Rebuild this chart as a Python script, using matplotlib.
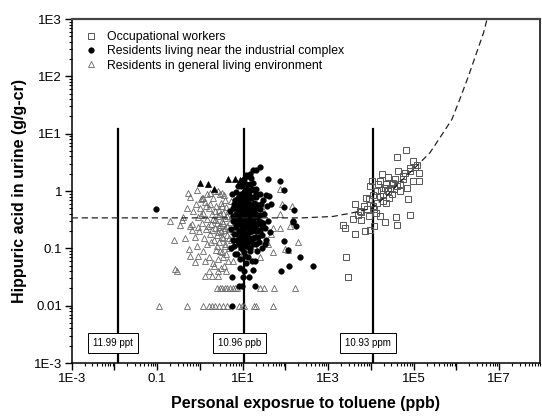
import numpy as np
import matplotlib
matplotlib.use("Agg")
import matplotlib.pyplot as plt
from matplotlib.ticker import LogLocator, NullFormatter

plt.rcParams['font.family'] = ['DejaVu Sans Condensed', 'Liberation Sans Narrow', 'Liberation Sans']
plt.rcParams['font.stretch'] = 'condensed'

# occupational workers (x: toluene ppb, y: hippuric acid g/g-cr)
occ_pts = [
    (6.5e4, 5.1), (4.1e4, 3.9), (9.5e4, 3.4), (1.8e4, 2.0), (2.5e4, 1.75),
    (4.3e4, 2.2), (8.1e4, 2.5), (1.07e5, 2.6), (1.3e5, 2.1), (1.35e5, 1.5),
    (9.6e4, 1.5), (7.4e4, 0.72), (8.2e4, 0.38), (3.9e4, 0.35), (4.1e4, 0.26),
    (2.1e4, 0.29), (1.2e4, 0.25), (9.5e3, 0.21), (7.3e3, 0.20), (4.3e3, 0.18),
    (2.5e3, 0.23), (2.2e3, 0.26), (3.7e3, 0.33), (4.3e3, 0.59), (6.0e3, 0.31),
    (7.6e3, 0.76), (9.6e3, 1.2), (1.6e4, 1.5), (2.6e3, 0.072), (2.9e3, 0.031),
    (9.0e3, 0.72), (1.2e4, 0.48), (2.3e4, 0.63), (3.1e4, 0.88), (4.8e4, 1.0),
    (3.3e4, 1.4), (5.6e4, 1.6), (2.1e4, 1.15), (1.35e4, 1.0), (1.6e4, 0.82),
    (1.9e4, 0.67), (1.1e4, 0.55), (8.0e3, 0.48), (6.0e3, 0.43), (1.6e4, 0.37),
    (5.5e3, 0.45), (3.1e4, 1.3), (4.8e4, 1.3), (2.5e4, 1.0), (2.8e4, 1.15),
    (6.9e4, 1.15), (1.9e4, 0.88), (1.45e4, 1.3), (1.05e4, 1.5), (8.2e4, 2.2),
    (1.2e5, 2.8), (6.3e4, 2.1), (3.6e4, 1.6), (5.6e4, 1.8), (1.4e4, 0.62),
    (1.1e4, 0.85), (2.7e4, 0.75), (3.5e4, 1.1), (1.7e4, 1.05), (2.2e4, 1.35),
    (4.0e4, 1.2), (1.3e4, 0.42), (9.0e3, 0.36), (7.0e3, 0.55), (5.0e3, 0.38),
]

# residents living near the industrial complex
near_pts = [
    (25, 2.6), (20, 2.3), (17, 2.3), (15, 2.0), (13, 1.8), (12, 1.9), (11, 1.6),
    (10, 1.5), (9, 1.2), (40, 1.6), (74, 1.5), (90, 1.04), (41, 0.82), (45, 0.59),
    (90, 0.53), (150, 0.29), (160, 0.46), (150, 0.3), (175, 0.25), (217, 0.072),
    (123, 0.05), (445, 0.05), (77, 0.041), (90, 0.135), (117, 0.093),
    (19, 0.022), (8.3, 0.022), (9.5, 0.022), (5.6, 0.031), (5.6, 0.01),
    (10.3, 0.031), (14.3, 0.031), (17, 0.042), (0.093, 0.48),
    (5.5, 0.9), (5.8, 0.5), (6.0, 0.3), (6.2, 0.18), (6.4, 0.11), (6.6, 0.7),
    (6.8, 0.4), (7.0, 0.24), (7.2, 0.14), (7.4, 0.08), (7.6, 1.2), (7.8, 0.55),
    (8.0, 0.33), (8.2, 0.2), (8.4, 0.12), (8.6, 0.065), (8.8, 0.85), (9.0, 0.45),
    (9.2, 0.27), (9.4, 0.16), (9.6, 0.1), (9.8, 1.5), (10, 0.62), (10.3, 0.38),
    (10.6, 0.22), (10.9, 0.13), (11.2, 0.075), (11.5, 1.0), (11.8, 0.5),
    (12.1, 0.3), (12.4, 0.18), (12.7, 0.11), (13, 0.7), (13.4, 0.42),
    (13.8, 0.25), (14.2, 0.15), (14.6, 0.09), (15, 1.3), (15.5, 0.55),
    (16, 0.33), (16.5, 0.2), (17, 0.12), (17.5, 0.8), (18, 0.45), (18.5, 0.27),
    (19, 0.16), (19.5, 0.06), (20, 1.1), (21, 0.6), (22, 0.36), (23, 0.21),
    (24, 0.13), (25, 0.9), (26, 0.48), (27, 0.29), (28, 0.17), (29, 0.1),
    (30, 0.7), (32, 0.4), (34, 0.23), (36, 0.14), (38, 0.55), (40, 0.3),
    (43, 0.19), (7.1, 0.95), (7.9, 0.75), (8.5, 0.58), (9.1, 0.36), (9.7, 0.29),
    (10.2, 0.21), (10.8, 0.17), (11.4, 0.14), (12, 0.42), (12.6, 0.58),
    (13.2, 0.34), (13.9, 0.19), (14.5, 0.47), (15.2, 0.27), (16, 0.75),
    (16.8, 0.15), (17.6, 0.38), (18.4, 0.62), (19.2, 0.23), (20, 0.4), (21, 0.9),
    (22, 0.27), (23, 0.5), (24, 0.3), (6.3, 0.6), (7.3, 0.45), (8.3, 0.28),
    (9.3, 0.7), (10.5, 0.95), (11.7, 1.3), (12.9, 1.1), (14, 0.95), (15.5, 1.7),
    (17, 1.4), (18.5, 1.05), (20, 0.8), (9.5, 0.13), (10.5, 0.085), (12, 0.055),
    (13.5, 0.07), (15, 0.1), (16.5, 0.06), (8.8, 0.045), (11, 0.04), (7.5, 0.18),
    (6.8, 0.26), (5.8, 0.14), (5.2, 0.22), (5.0, 0.45), (5.3, 0.1), (6.5, 0.08),
    (8.0, 0.12), (9.0, 0.2), (11, 0.25), (12.5, 0.16), (14, 0.33), (16, 0.23),
    (18, 0.15), (20, 0.12), (22, 0.09), (25, 0.2), (27, 0.6), (30, 0.28),
    (33, 0.12), (35, 0.85), (13, 0.5), (11, 0.65), (9.5, 0.55), (8, 0.42),
    (16, 0.5), (19, 0.35), (14, 0.6), (10, 0.45), (12, 0.85), (15, 0.4),
    (17, 0.3), (21, 0.2), (23, 0.16), (7, 0.32), (6, 0.36), (18, 0.5),
    (26, 0.38), (28, 0.25),
    (9.9, 0.33), (10.8, 0.5), (11.6, 0.36), (12.2, 0.24), (13.1, 0.29),
    (9.4, 0.24), (10.1, 0.17), (11.9, 0.11), (13.6, 0.13), (14.8, 0.21),
    (15.8, 0.14), (8.6, 0.16), (9.0, 0.1), (10.4, 0.68), (11.1, 0.8),
    (12.8, 0.68), (13.7, 0.82), (8.3, 0.6), (9.2, 0.9), (16.2, 1.1),
]

# residents in general living environment
gen_pts = [
    (0.11, 0.01), (0.49, 0.01), (1.2, 0.01), (1.6, 0.01), (1.9, 0.01),
    (2.3, 0.01), (2.8, 0.01), (3.4, 0.01), (4.2, 0.01), (8.0, 0.01),
    (9.5, 0.01), (11, 0.01), (18, 0.01), (21, 0.01), (51, 0.01),
    (2.5, 0.02), (2.9, 0.02), (3.3, 0.02), (3.8, 0.02), (4.4, 0.02),
    (5.0, 0.02), (5.8, 0.02), (6.5, 0.02), (7.3, 0.02), (26, 0.02),
    (31, 0.02), (55, 0.02), (167, 0.02),
    (1.3, 0.033), (1.9, 0.033), (2.7, 0.033),
    (74, 1.07), (81, 0.59), (140, 0.55), (52, 0.23), (74, 0.23), (127, 0.25),
    (200, 0.13), (117, 0.093), (52, 0.085), (40, 0.12), (74, 0.39), (45, 0.18),
    (98, 0.096),
    (0.7, 0.45), (0.8, 0.6), (0.9, 0.35), (1.0, 0.5), (1.1, 0.28), (1.2, 0.42),
    (1.3, 0.65), (1.4, 0.22), (1.5, 0.33), (1.6, 0.5), (1.7, 0.18), (1.8, 0.27),
    (1.9, 0.4), (2.0, 0.75), (2.1, 0.14), (2.2, 0.23), (2.3, 0.31), (2.4, 0.55),
    (2.5, 0.11), (2.6, 0.19), (2.7, 0.36), (2.8, 0.47), (2.9, 0.09), (3.0, 0.26),
    (3.1, 0.62), (3.2, 0.16), (3.3, 0.3), (3.4, 0.41), (3.5, 0.07), (3.6, 0.21),
    (3.7, 0.85), (3.8, 0.12), (3.9, 0.34), (4.0, 0.52), (4.2, 0.25), (4.4, 0.17),
    (4.6, 0.44), (4.8, 0.1), (5.0, 0.29), (5.2, 0.68), (5.4, 0.14), (5.6, 0.38),
    (5.8, 0.2), (6.0, 0.06), (6.3, 0.33), (6.6, 0.12), (7.0, 0.24), (7.4, 0.5),
    (7.8, 0.16), (8.2, 0.09), (8.6, 0.3), (9.0, 0.19), (9.5, 0.42), (10, 0.08),
    (10.5, 0.27), (11, 0.14), (12, 0.6), (13, 0.35), (14, 0.2), (16, 0.45),
    (18, 0.11), (20, 0.3), (22, 0.17), (25, 0.07), (28, 0.5), (32, 0.24),
    (36, 0.13),
    (0.6, 0.8), (0.65, 0.27), (0.75, 0.16), (0.85, 0.11), (0.95, 0.2),
    (1.05, 0.38), (1.15, 0.09), (1.25, 0.15), (1.35, 0.55), (1.45, 0.12),
    (1.55, 0.25), (1.65, 0.07), (1.75, 0.6), (1.85, 0.13), (1.95, 0.21),
    (2.05, 0.32), (2.15, 0.05), (2.25, 0.45), (2.35, 0.095), (2.45, 0.17),
    (2.55, 0.28), (2.65, 0.065), (2.75, 0.24), (2.85, 0.13), (2.95, 0.39),
    (3.05, 0.045), (3.15, 0.2), (3.25, 0.085), (3.35, 0.55), (3.45, 0.15),
    (3.55, 0.28), (3.65, 0.05), (3.75, 0.11), (3.85, 0.23), (3.95, 0.7),
    (4.1, 0.08), (4.3, 0.36), (4.5, 0.06), (4.7, 0.22), (4.9, 0.15), (1.1, 0.75),
    (1.5, 0.9), (0.9, 0.24), (2.0, 0.055), (2.6, 0.04), (1.3, 0.06), (1.6, 0.04),
    (4.0, 0.04), (3.0, 0.9), (2.3, 1.0),
    (0.2, 0.3), (0.38, 0.31), (0.52, 0.91), (0.25, 0.14), (0.58, 0.25),
    (0.64, 0.21), (0.56, 0.097), (0.58, 0.074), (0.9, 0.074), (0.77, 0.057),
    (0.26, 0.043), (0.29, 0.041), (0.4, 0.35), (0.34, 0.26), (0.85, 1.03),
    (1.05, 0.72), (1.2, 0.77), (1.7, 0.94), (2.7, 1.0), (3.2, 0.94),
    (0.45, 0.15), (0.5, 0.5),
]

# filled triangles at the top of the general group
gen_hi_pts = [(1.0, 1.36), (1.55, 1.3), (2.15, 1.1), (4.6, 1.6), (6.6, 1.6), (8.6, 1.55)]

# dashed fitted curve
curve_x = [1e-3, 250, 1300, 3900, 1.05e4, 2.3e4, 4.8e4, 1.07e5, 2.4e5, 4.9e5,
           7.8e5, 1.2e6, 1.9e6, 2.95e6, 4.3e6, 5.2e6]
curve_y = [0.34, 0.34, 0.36, 0.42, 0.5, 0.82, 1.44, 2.55, 4.66, 10.4,
           17.7, 40, 100, 257, 575, 1000]

limit_x = [0.01199, 10.96, 10930]
limit_labels = ['11.99 ppt', '10.96 ppb', '10.93 ppm']

xticks = [10.0 ** k for k in range(-3, 8)]
xtick_labels = ['1E-3', '', '0.1', '', '1E1', '', '1E3', '', '1E5', '', '1E7']
yticks = [10.0 ** k for k in range(-3, 4)]
ytick_labels = ['1E-3', '0.01', '0.1', '1', '1E1', '1E2', '1E3']

fig = plt.figure(figsize=(5.42, 4.16), dpi=100)
ax = fig.add_axes([0.1323, 0.1274, 0.8641, 0.8269])
ax.set_xscale('log')
ax.set_yscale('log')

for xv, lab in zip(limit_x, limit_labels):
    ax.plot([xv, xv], [1e-3, 12], color='black', lw=1.6, zorder=2)
    ax.annotate(lab, xy=(xv, 0.00224), xytext=(-3.5, 0), textcoords='offset points',
                ha='center', va='center', fontsize=7, zorder=6,
                bbox=dict(boxstyle='square,pad=0.5', fc='white', ec='black', lw=0.7))

ax.plot(curve_x, curve_y, ls=(0, (5, 3)), color='#222222', lw=0.9, zorder=5)

ox, oy = np.array(occ_pts).T
nx, ny = np.array(near_pts).T
gx, gy = np.array(gen_pts).T
hx, hy = np.array(gen_hi_pts).T

ax.plot(ox, oy, 's', ms=3.8, mfc='none', mec='#555555', mew=0.7,
        label='Occupational workers', zorder=4)
ax.plot(gx, gy, '^', ms=4.6, mfc='none', mec='#666666', mew=0.6, zorder=3)
ax.plot(nx, ny, 'o', ms=4.1, mfc='black', mec='black', mew=0.3,
        label='Residents living near the industrial complex', zorder=4)
ax.plot(hx, hy, '^', ms=4.6, mfc='black', mec='black', mew=0.5, zorder=4)
# legend proxy so the triangles sit last in the legend
ax.plot([], [], '^', ms=4.6, mfc='none', mec='#666666', mew=0.6,
        label='Residents in general living environment')

ax.set_xlim(1e-3, 10 ** 7.955)
ax.set_ylim(1e-3, 1e3)
ax.set_xticks(xticks)
ax.set_xticklabels(xtick_labels)
ax.set_yticks(yticks)
ax.set_yticklabels(ytick_labels)
ax.xaxis.set_minor_locator(LogLocator(base=10, subs=np.arange(2, 10), numticks=30))
ax.yaxis.set_minor_locator(LogLocator(base=10, subs=np.arange(2, 10), numticks=30))
ax.xaxis.set_minor_formatter(NullFormatter())
ax.yaxis.set_minor_formatter(NullFormatter())
ax.tick_params(which='major', direction='out', length=5, width=1, labelsize=9.5, pad=2)
ax.tick_params(which='minor', direction='out', length=2.5, width=0.8)

for side in ['left', 'bottom', 'right']:
    ax.spines[side].set_linewidth(1.1)
ax.spines['top'].set_linewidth(1.6)
ax.spines['top'].set_color('#444444')

ax.set_xlabel('Personal exposrue to toluene (ppb)', fontsize=11.5, fontweight='bold', labelpad=8)
ax.set_ylabel('Hippuric acid in urine (g/g-cr)', fontsize=11.5, fontweight='bold', labelpad=5)

ax.legend(loc='upper left', bbox_to_anchor=(0.015, 0.98), frameon=False, fontsize=8.8,
          handlelength=1.2, handletextpad=0.7, labelspacing=0.2, borderaxespad=0)

fig.savefig('out.png', dpi=100)
